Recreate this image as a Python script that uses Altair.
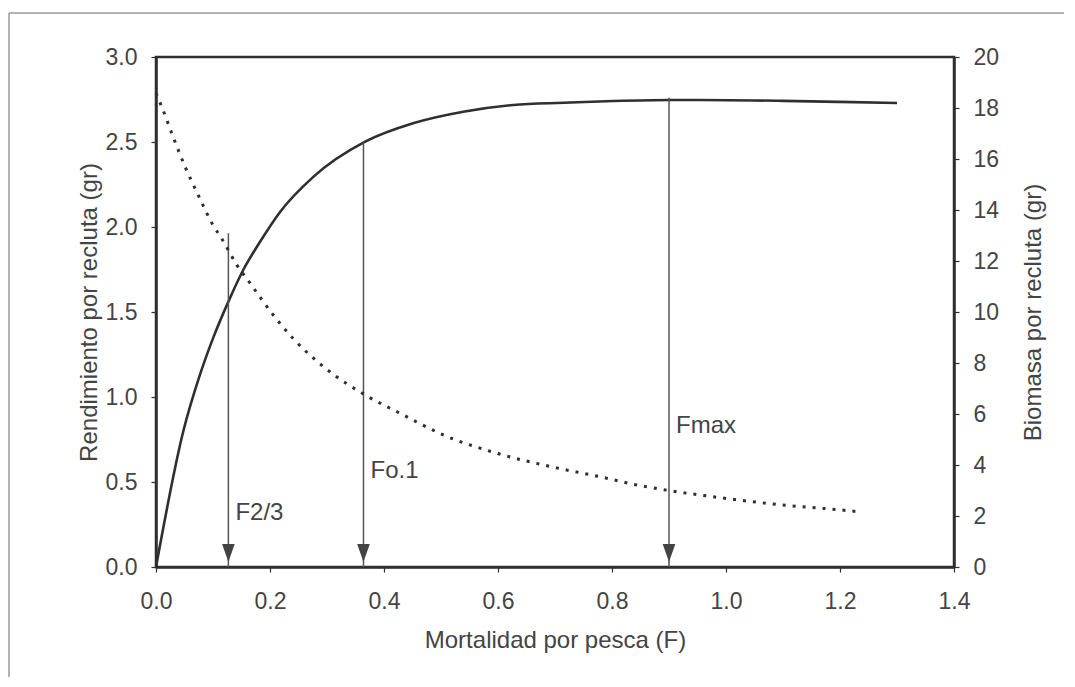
import altair as alt
import pandas as pd

# Yield per recruit (left axis)
ypr_f = [0.0, 0.048, 0.077, 0.10, 0.127, 0.153, 0.182, 0.218, 0.276, 0.367, 0.451,
         0.539, 0.627, 0.715, 0.802, 0.902, 0.954, 1.10, 1.20, 1.30]
ypr_y = [0.0, 0.80, 1.13, 1.345, 1.561, 1.747, 1.91, 2.09, 2.295, 2.502, 2.61,
         2.678, 2.718, 2.731, 2.741, 2.747, 2.747, 2.742, 2.736, 2.729]

# Biomass per recruit (right axis)
bpr_f = [0.0, 0.01, 0.03, 0.051, 0.074, 0.10, 0.115, 0.142, 0.165, 0.20, 0.241, 0.294,
         0.372, 0.428, 0.504, 0.60, 0.70, 0.779, 0.852, 0.90, 1.0, 1.10, 1.20, 1.232]
bpr_b = [18.58, 18.05, 16.87, 15.7, 14.59, 13.41, 12.89, 11.84, 11.13, 10.05, 8.95, 7.85,
         6.68, 6.03, 5.18, 4.45, 3.90, 3.54, 3.18, 3.0, 2.69, 2.43, 2.24, 2.17]

# Reference points (arrows)
ref_f = [0.127, 0.364, 0.90]
ref_top = [1.963, 2.502, 2.76]
ref_label = ["F2/3", "Fo.1", "Fmax"]
ref_label_y = [0.276, 0.522, 0.79]

x_ticks = [0.0, 0.2, 0.4, 0.6, 0.8, 1.0, 1.2, 1.4]
left_ticks = [0.0, 0.5, 1.0, 1.5, 2.0, 2.5, 3.0]
right_ticks = [0, 2, 4, 6, 8, 10, 12, 14, 16, 18, 20]

ypr = pd.DataFrame({"F": ypr_f, "Y": ypr_y})
bpr = pd.DataFrame({"F": bpr_f, "B": bpr_b})
refs = pd.DataFrame({"F": ref_f, "top": ref_top, "label": ref_label, "ly": ref_label_y})

FONT = "Liberation Sans"
TXT = "#444444"
DARK = "#2f2f2f"

xscale = alt.Scale(domain=[0, 1.4], nice=False, zero=False)
lscale = alt.Scale(domain=[0, 3], nice=False)
rscale = alt.Scale(domain=[0, 20], nice=False)

x_axis = alt.Axis(values=x_ticks, format=".1f", title="Mortalidad por pesca (F)",
                  labelFlush=False, labelOverlap=False, labelPadding=18,
                  titleX=399, titleY=80, titleBaseline="alphabetic", titleAlign="center",
                  titleFontSize=24)

left_axis = alt.Axis(orient="left", values=left_ticks, format=".1f",
                     title="Rendimiento por recluta (gr)", labelPadding=14,
                     labelOverlap=False, titleAngle=270, titleX=-60, titleY=255,
                     titleAlign="center", titleBaseline="alphabetic",
                     titleFontSize=24)

right_axis = alt.Axis(orient="right", values=right_ticks, format="d",
                      title="Biomasa por recluta (gr)", labelPadding=14,
                      labelOverlap=False, titleAngle=270, titleX=86, titleY=255,
                      titleAlign="center", titleBaseline="alphabetic",
                      titleFontSize=24)

solid = alt.Chart(ypr).mark_line(color=DARK, strokeWidth=2.6, interpolate="monotone").encode(
    x=alt.X("F:Q", scale=xscale, axis=x_axis),
    y=alt.Y("Y:Q", scale=lscale, axis=left_axis),
)

arrows = alt.Chart(refs).mark_rule(color="#555555", strokeWidth=1.5).encode(
    x=alt.X("F:Q", scale=xscale, axis=x_axis),
    y=alt.Y("top:Q", scale=lscale, axis=left_axis),
    y2=alt.datum(0),
)

heads = alt.Chart(refs).transform_calculate(zero="0").mark_point(
    shape="M-0.7,-1L0.7,-1L0,1Z", size=324, filled=True, color="#444444",
    opacity=1, yOffset=-14, strokeWidth=0,
).encode(
    x=alt.X("F:Q", scale=xscale, axis=x_axis),
    y=alt.Y("zero:Q", scale=lscale, axis=left_axis),
)

labels = alt.Chart(refs).mark_text(
    align="left", baseline="alphabetic", dx=7, fontSize=24, font=FONT, color=TXT,
).encode(
    x=alt.X("F:Q", scale=xscale, axis=x_axis),
    y=alt.Y("ly:Q", scale=lscale, axis=left_axis),
    text="label:N",
)

frame_h = alt.Chart(alt.Data(values=[{}])).mark_rule(color="#9a9a9a", strokeWidth=1.5).encode(
    x=alt.value(-147), x2=alt.value(930), y=alt.value(-44))
frame_v = alt.Chart(alt.Data(values=[{}])).mark_rule(color="#9a9a9a", strokeWidth=1.5).encode(
    x=alt.value(-147), y=alt.value(-44), y2=alt.value(660))

left = alt.layer(solid, arrows, heads, labels, frame_h, frame_v)

dotted = alt.Chart(bpr).mark_line(color=DARK, strokeWidth=3, strokeDash=[3, 7],
                                  interpolate="monotone").encode(
    x=alt.X("F:Q", scale=xscale, axis=x_axis),
    y=alt.Y("B:Q", scale=rscale, axis=right_axis),
)

chart = alt.layer(left, dotted).resolve_scale(y="independent").properties(
    width=798, height=510,
    autosize=alt.AutoSizeParams(type="none"),
    padding={"left": 148, "top": 49, "right": 110, "bottom": 110},
    background="white",
).configure_view(
    stroke=DARK, strokeWidth=2.5,
).configure_axis(
    grid=False, domainColor=DARK, domainWidth=2.5, tickColor=DARK, tickWidth=1.2,
    tickSize=5, labelFont=FONT, labelFontSize=23, labelColor=TXT,
    titleFont=FONT, titleFontWeight="normal", titleColor=TXT,
)

chart.save("out.html", embed_options={"renderer": "svg", "actions": False})
